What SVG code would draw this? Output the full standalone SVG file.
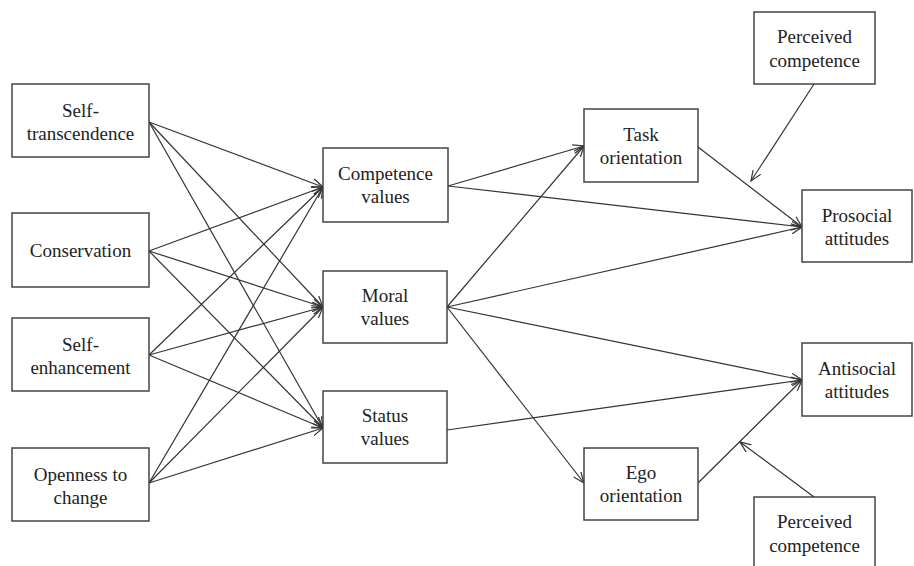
<svg xmlns="http://www.w3.org/2000/svg" width="914" height="566" viewBox="0 0 914 566">
<defs>
<marker id="ah" viewBox="0 0 12 10" refX="11" refY="5" markerWidth="12" markerHeight="10" markerUnits="userSpaceOnUse" orient="auto">
<path d="M0,0.5 L11,5 L0,9.5" fill="none" stroke="#333" stroke-width="1.2"/>
</marker>
</defs>
<style>
.box{fill:#fff;stroke:#444;stroke-width:1.5}
text{font-family:'Liberation Serif','Times New Roman',Tinos,'DejaVu Serif',serif;font-size:19px;fill:#222;text-anchor:middle}
.edge{stroke:#333;stroke-width:1.2;fill:none;marker-end:url(#ah)}
</style>
<rect width="914" height="566" fill="#fff"/>
<g id="connectors">
<line class="edge" x1="149" y1="122" x2="323" y2="187"/>
<line class="edge" x1="149" y1="122" x2="323" y2="307"/>
<line class="edge" x1="149" y1="122" x2="323" y2="428"/>
<line class="edge" x1="149" y1="251" x2="323" y2="187"/>
<line class="edge" x1="149" y1="251" x2="323" y2="307"/>
<line class="edge" x1="149" y1="251" x2="323" y2="428"/>
<line class="edge" x1="149" y1="355" x2="323" y2="187"/>
<line class="edge" x1="149" y1="355" x2="323" y2="307"/>
<line class="edge" x1="149" y1="355" x2="323" y2="428"/>
<line class="edge" x1="149" y1="483" x2="323" y2="187"/>
<line class="edge" x1="149" y1="483" x2="323" y2="307"/>
<line class="edge" x1="149" y1="483" x2="323" y2="428"/>
<line class="edge" x1="448" y1="186" x2="584" y2="146"/>
<line class="edge" x1="448" y1="186" x2="802" y2="227"/>
<line class="edge" x1="447" y1="307" x2="584" y2="146"/>
<line class="edge" x1="447" y1="307" x2="802" y2="227"/>
<line class="edge" x1="447" y1="307" x2="802" y2="380"/>
<line class="edge" x1="447" y1="307" x2="584" y2="483"/>
<line class="edge" x1="447" y1="430" x2="802" y2="380"/>
<line class="edge" x1="698" y1="147" x2="802" y2="227"/>
<line class="edge" x1="698" y1="483" x2="802" y2="380"/>
<line class="edge" x1="814" y1="84" x2="751" y2="181"/>
<line class="edge" x1="814" y1="497" x2="740" y2="442"/>
</g>
<g id="self-transcendence">
<rect class="box" x="12" y="84" width="137" height="73"/>
<text x="80.5" y="117" font-family="Liberation Serif, serif">Self-</text>
<text x="80.5" y="140" font-family="Liberation Serif, serif">transcendence</text>
</g>
<g id="conservation">
<rect class="box" x="12" y="213" width="137" height="74"/>
<text x="80.5" y="257">Conservation</text>
</g>
<g id="self-enhancement">
<rect class="box" x="12" y="318" width="137" height="73"/>
<text x="80.5" y="351">Self-</text>
<text x="80.5" y="374">enhancement</text>
</g>
<g id="openness">
<rect class="box" x="12" y="448" width="137" height="73"/>
<text x="80.5" y="481">Openness to</text>
<text x="80.5" y="504">change</text>
</g>
<g id="competence-values">
<rect class="box" x="323" y="148" width="125" height="74"/>
<text x="385.5" y="180">Competence</text>
<text x="385.5" y="203">values</text>
</g>
<g id="moral-values">
<rect class="box" x="323" y="271" width="124" height="72"/>
<text x="385" y="302">Moral</text>
<text x="385" y="325">values</text>
</g>
<g id="status-values">
<rect class="box" x="323" y="391" width="124" height="72"/>
<text x="385" y="422">Status</text>
<text x="385" y="445">values</text>
</g>
<g id="task-orientation">
<rect class="box" x="584" y="109" width="114" height="73"/>
<text x="641" y="141">Task</text>
<text x="641" y="164">orientation</text>
</g>
<g id="ego-orientation">
<rect class="box" x="584" y="448" width="114" height="72"/>
<text x="641" y="479">Ego</text>
<text x="641" y="502">orientation</text>
</g>
<g id="perceived-competence-top">
<rect class="box" x="754" y="12" width="121" height="72"/>
<text x="814.5" y="43">Perceived</text>
<text x="814.5" y="67">competence</text>
</g>
<g id="prosocial">
<rect class="box" x="802" y="190" width="110" height="72"/>
<text x="857" y="222">Prosocial</text>
<text x="857" y="245">attitudes</text>
</g>
<g id="antisocial">
<rect class="box" x="802" y="343" width="110" height="73"/>
<text x="857" y="375">Antisocial</text>
<text x="857" y="398">attitudes</text>
</g>
<g id="perceived-competence-bottom">
<rect class="box" x="754" y="497" width="121" height="80"/>
<text x="814.5" y="528">Perceived</text>
<text x="814.5" y="552">competence</text>
</g>
</svg>
